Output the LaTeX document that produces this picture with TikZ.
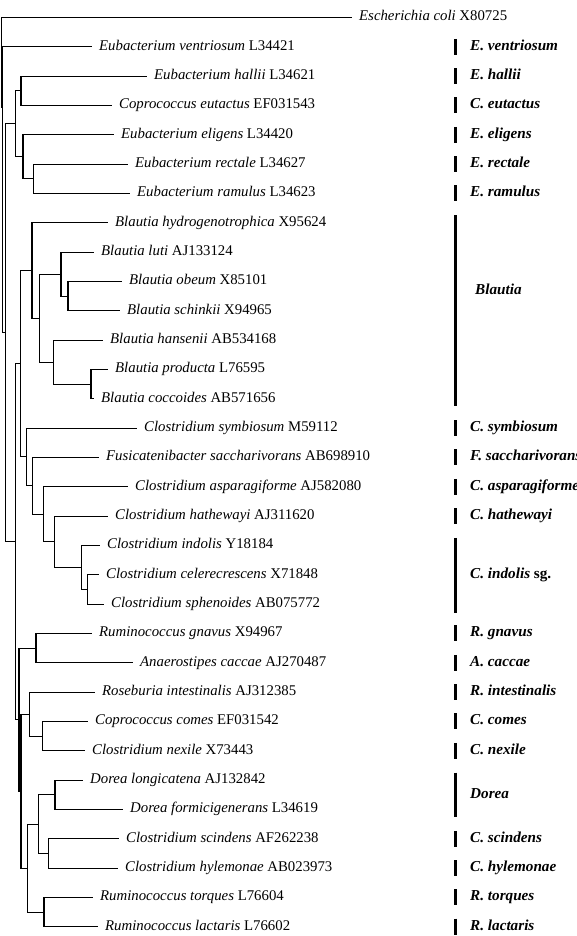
\documentclass[tikz,border=0pt]{standalone}
\usepackage{fontspec}
\setmainfont{Liberation Serif}
\newcommand\ly[1]{17.5+29.33*(#1)}
\begin{document}
\begin{tikzpicture}[x=1pt,y=-1pt,
  br/.style={line width=1.1pt},
  leaf/.style={anchor=west, inner xsep=7pt, inner ysep=0pt, text height=0.66em, text depth=0pt,
    font=\fontsize{14.8}{17}\selectfont},
  clade/.style={anchor=west, inner sep=0pt, text height=0.66em, text depth=0pt,
    font=\fontsize{15.2}{17}\selectfont\bfseries\itshape},
  bar/.style={line width=3pt}]
\useasboundingbox (0,0) rectangle (577,936);

% ---------------- leaves ----------------
\node[leaf] (t0)  at (352,{\ly{0}})  {\textit{Escherichia coli} X80725};
\node[leaf] (t1)  at (92,{\ly{1}})   {\textit{Eubacterium ventriosum} L34421};
\node[leaf] (t2)  at (147,{\ly{2}})  {\textit{Eubacterium hallii} L34621};
\node[leaf] (t3)  at (112,{\ly{3}})  {\textit{Coprococcus eutactus} EF031543};
\node[leaf] (t4)  at (114,{\ly{4}})  {\textit{Eubacterium eligens} L34420};
\node[leaf] (t5)  at (128,{\ly{5}})  {\textit{Eubacterium rectale} L34627};
\node[leaf] (t6)  at (130,{\ly{6}})  {\textit{Eubacterium ramulus} L34623};
\node[leaf] (t7)  at (108,{\ly{7}})  {\textit{Blautia hydrogenotrophica} X95624};
\node[leaf] (t8)  at (94,{\ly{8}})   {\textit{Blautia luti} AJ133124};
\node[leaf] (t9)  at (122,{\ly{9}})  {\textit{Blautia obeum} X85101};
\node[leaf] (t10) at (120,{\ly{10}}) {\textit{Blautia schinkii} X94965};
\node[leaf] (t11) at (103,{\ly{11}}) {\textit{Blautia hansenii} AB534168};
\node[leaf] (t12) at (108,{\ly{12}}) {\textit{Blautia producta} L76595};
\node[leaf] (t13) at (94,{\ly{13}})  {\textit{Blautia coccoides} AB571656};
\node[leaf] (t14) at (137,{\ly{14}}) {\textit{Clostridium symbiosum} M59112};
\node[leaf] (t15) at (99,{\ly{15}})  {\textit{Fusicatenibacter saccharivorans} AB698910};
\node[leaf] (t16) at (128,{\ly{16}}) {\textit{Clostridium asparagiforme} AJ582080};
\node[leaf] (t17) at (108,{\ly{17}}) {\textit{Clostridium hathewayi} AJ311620};
\node[leaf] (t18) at (100,{\ly{18}}) {\textit{Clostridium indolis} Y18184};
\node[leaf] (t19) at (99,{\ly{19}})  {\textit{Clostridium celerecrescens} X71848};
\node[leaf] (t20) at (104,{\ly{20}}) {\textit{Clostridium sphenoides} AB075772};
\node[leaf] (t21) at (92,{\ly{21}})  {\textit{Ruminococcus gnavus} X94967};
\node[leaf] (t22) at (133,{\ly{22}}) {\textit{Anaerostipes caccae} AJ270487};
\node[leaf] (t23) at (95,{\ly{23}})  {\textit{Roseburia intestinalis} AJ312385};
\node[leaf] (t24) at (88,{\ly{24}})  {\textit{Coprococcus comes} EF031542};
\node[leaf] (t25) at (85,{\ly{25}})  {\textit{Clostridium nexile} X73443};
\node[leaf] (t26) at (83,{\ly{26}})  {\textit{Dorea longicatena} AJ132842};
\node[leaf] (t27) at (123,{\ly{27}}) {\textit{Dorea formicigenerans} L34619};
\node[leaf] (t28) at (119,{\ly{28}}) {\textit{Clostridium scindens} AF262238};
\node[leaf] (t29) at (118,{\ly{29}}) {\textit{Clostridium hylemonae} AB023973};
\node[leaf] (t30) at (93,{\ly{30}})  {\textit{Ruminococcus torques} L76604};
\node[leaf] (t31) at (98,{\ly{31}})  {\textit{Ruminococcus lactaris} L76602};

% ---------------- internal nodes ----------------
\coordinate (nRoot) at (1.7,108);
\coordinate (nA)  at (2.8,{\ly{5.875}});
\coordinate (nB)  at (5.7,{\ly{10.75}});
\coordinate (nC)  at (15.7,{\ly{3.625}});
\coordinate (nD)  at (21,{\ly{2.5}});
\coordinate (nE)  at (23,{\ly{4.75}});
\coordinate (nF)  at (33.3,{\ly{5.5}});
\coordinate (nN)  at (15.7,{\ly{17.87}});
\coordinate (nM)  at (20.7,{\ly{11.80}});
\coordinate (nG)  at (32,{\ly{8.625}});
\coordinate (nH)  at (39.3,{\ly{10.25}});
\coordinate (nI)  at (61,{\ly{8.75}});
\coordinate (nJ)  at (68,{\ly{9.5}});
\coordinate (nK)  at (53.3,{\ly{11.75}});
\coordinate (nL)  at (91,{\ly{12.5}});
\coordinate (nX6) at (26.7,{\ly{14.98}});
\coordinate (nX5) at (32.3,{\ly{15.97}});
\coordinate (nX4) at (43.3,{\ly{16.9375}});
\coordinate (nX3) at (54.3,{\ly{17.875}});
\coordinate (nX2) at (81.7,{\ly{18.75}});
\coordinate (nX1) at (87.3,{\ly{19.5}});
\coordinate (nP)  at (19,{\ly{23.9375}});
\coordinate (nP1) at (36,{\ly{21.5}});
\coordinate (nQ)  at (21,{\ly{26.375}});
\coordinate (nR)  at (29.3,{\ly{23.75}});
\coordinate (nRc) at (42.7,{\ly{24.5}});
\coordinate (nS)  at (27.3,{\ly{29}});
\coordinate (nT)  at (38.3,{\ly{27.5}});
\coordinate (nDo) at (55,{\ly{26.5}});
\coordinate (nSc) at (48.3,{\ly{28.5}});
\coordinate (nRt) at (44,{\ly{30.5}});

% ---------------- branches ----------------
\draw[br] (nRoot) |- (t0.west);
\draw[br] (nRoot) -- (nA |- nRoot);
\draw[br] (nA) |- (t1.west);
\draw[br] (nA) |- (nB);
\draw[br] (nB) |- (nC);
\draw[br] (nB) |- (nN);
\draw[br] (nC) |- (nD);
\draw[br] (nC) |- (nE);
\draw[br] (nD) |- (t2.west);
\draw[br] (nD) |- (t3.west);
\draw[br] (nE) |- (t4.west);
\draw[br] (nE) |- (nF);
\draw[br] (nF) |- (t5.west);
\draw[br] (nF) |- (t6.west);
\draw[br] (nN) |- (nM);
\draw[br] (nN) |- (nP);
\draw[br] (nM) |- (nG);
\draw[br] (nM) |- (nX6);
\draw[br] (nG) |- (t7.west);
\draw[br] (nG) |- (nH);
\draw[br] (nH) |- (nI);
\draw[br] (nH) |- (nK);
\draw[br] (nI) |- (t8.west);
\draw[br] (nI) |- (nJ);
\draw[br] (nJ) |- (t9.west);
\draw[br] (nJ) |- (t10.west);
\draw[br] (nK) |- (t11.west);
\draw[br] (nK) |- (nL);
\draw[br] (nL) |- (t12.west);
\draw[br] (nL) |- (t13.west);
\draw[br] (nX6) |- (t14.west);
\draw[br] (nX6) |- (nX5);
\draw[br] (nX5) |- (t15.west);
\draw[br] (nX5) |- (nX4);
\draw[br] (nX4) |- (t16.west);
\draw[br] (nX4) |- (nX3);
\draw[br] (nX3) |- (t17.west);
\draw[br] (nX3) |- (nX2);
\draw[br] (nX2) |- (t18.west);
\draw[br] (nX2) |- (nX1);
\draw[br] (nX1) |- (t19.west);
\draw[br] (nX1) |- (t20.west);
\draw[br] (nP) |- (nP1);
\draw[br] (nP) |- (nQ);
\draw[br] (nP1) |- (t21.west);
\draw[br] (nP1) |- (t22.west);
\draw[br] (nQ) |- (nR);
\draw[br] (nQ) |- (nS);
\draw[br] (nR) |- (t23.west);
\draw[br] (nR) |- (nRc);
\draw[br] (nRc) |- (t24.west);
\draw[br] (nRc) |- (t25.west);
\draw[br] (nS) |- (nT);
\draw[br] (nS) |- (nRt);
\draw[br] (nT) |- (nDo);
\draw[br] (nT) |- (nSc);
\draw[br] (nDo) |- (t26.west);
\draw[br] (nDo) |- (t27.west);
\draw[br] (nSc) |- (t28.west);
\draw[br] (nSc) |- (t29.west);
\draw[br] (nRt) |- (t30.west);
\draw[br] (nRt) |- (t31.west);

% ---------------- clade bars and labels ----------------
\foreach \i/\lab in {1/E. ventriosum, 2/E. hallii, 3/C. eutactus, 4/E. eligens,
  5/E. rectale, 6/E. ramulus, 14/C. symbiosum, 15/F. saccharivorans,
  16/C. asparagiforme, 17/C. hathewayi, 21/R. gnavus, 22/A. caccae,
  23/R. intestinalis, 24/C. comes, 25/C. nexile, 28/C. scindens,
  29/C. hylemonae, 30/R. torques, 31/R. lactaris}{
  \draw[bar] (455,{\ly{\i}-8}) -- (455,{\ly{\i}+8});
  \node[clade] (cl\i) at (470,{\ly{\i}}) {\lab};
}
\draw[bar] (455,{\ly{7}-7.5}) -- (455,{\ly{13}+7.5});
\node[clade] (clBlautia) at (475,291) {Blautia};
\draw[bar] (455,{\ly{18}-7.5}) -- (455,{\ly{20}+9});
\node[clade] (clIndolis) at (470,{\ly{19}}) {C. indolis \upshape sg.};
\draw[bar] (455,{\ly{26}-7.5}) -- (455,{\ly{27}+7.5});
\node[clade] (clDorea) at (470,{\ly{26.5}}) {Dorea};
\end{tikzpicture}
\end{document}
